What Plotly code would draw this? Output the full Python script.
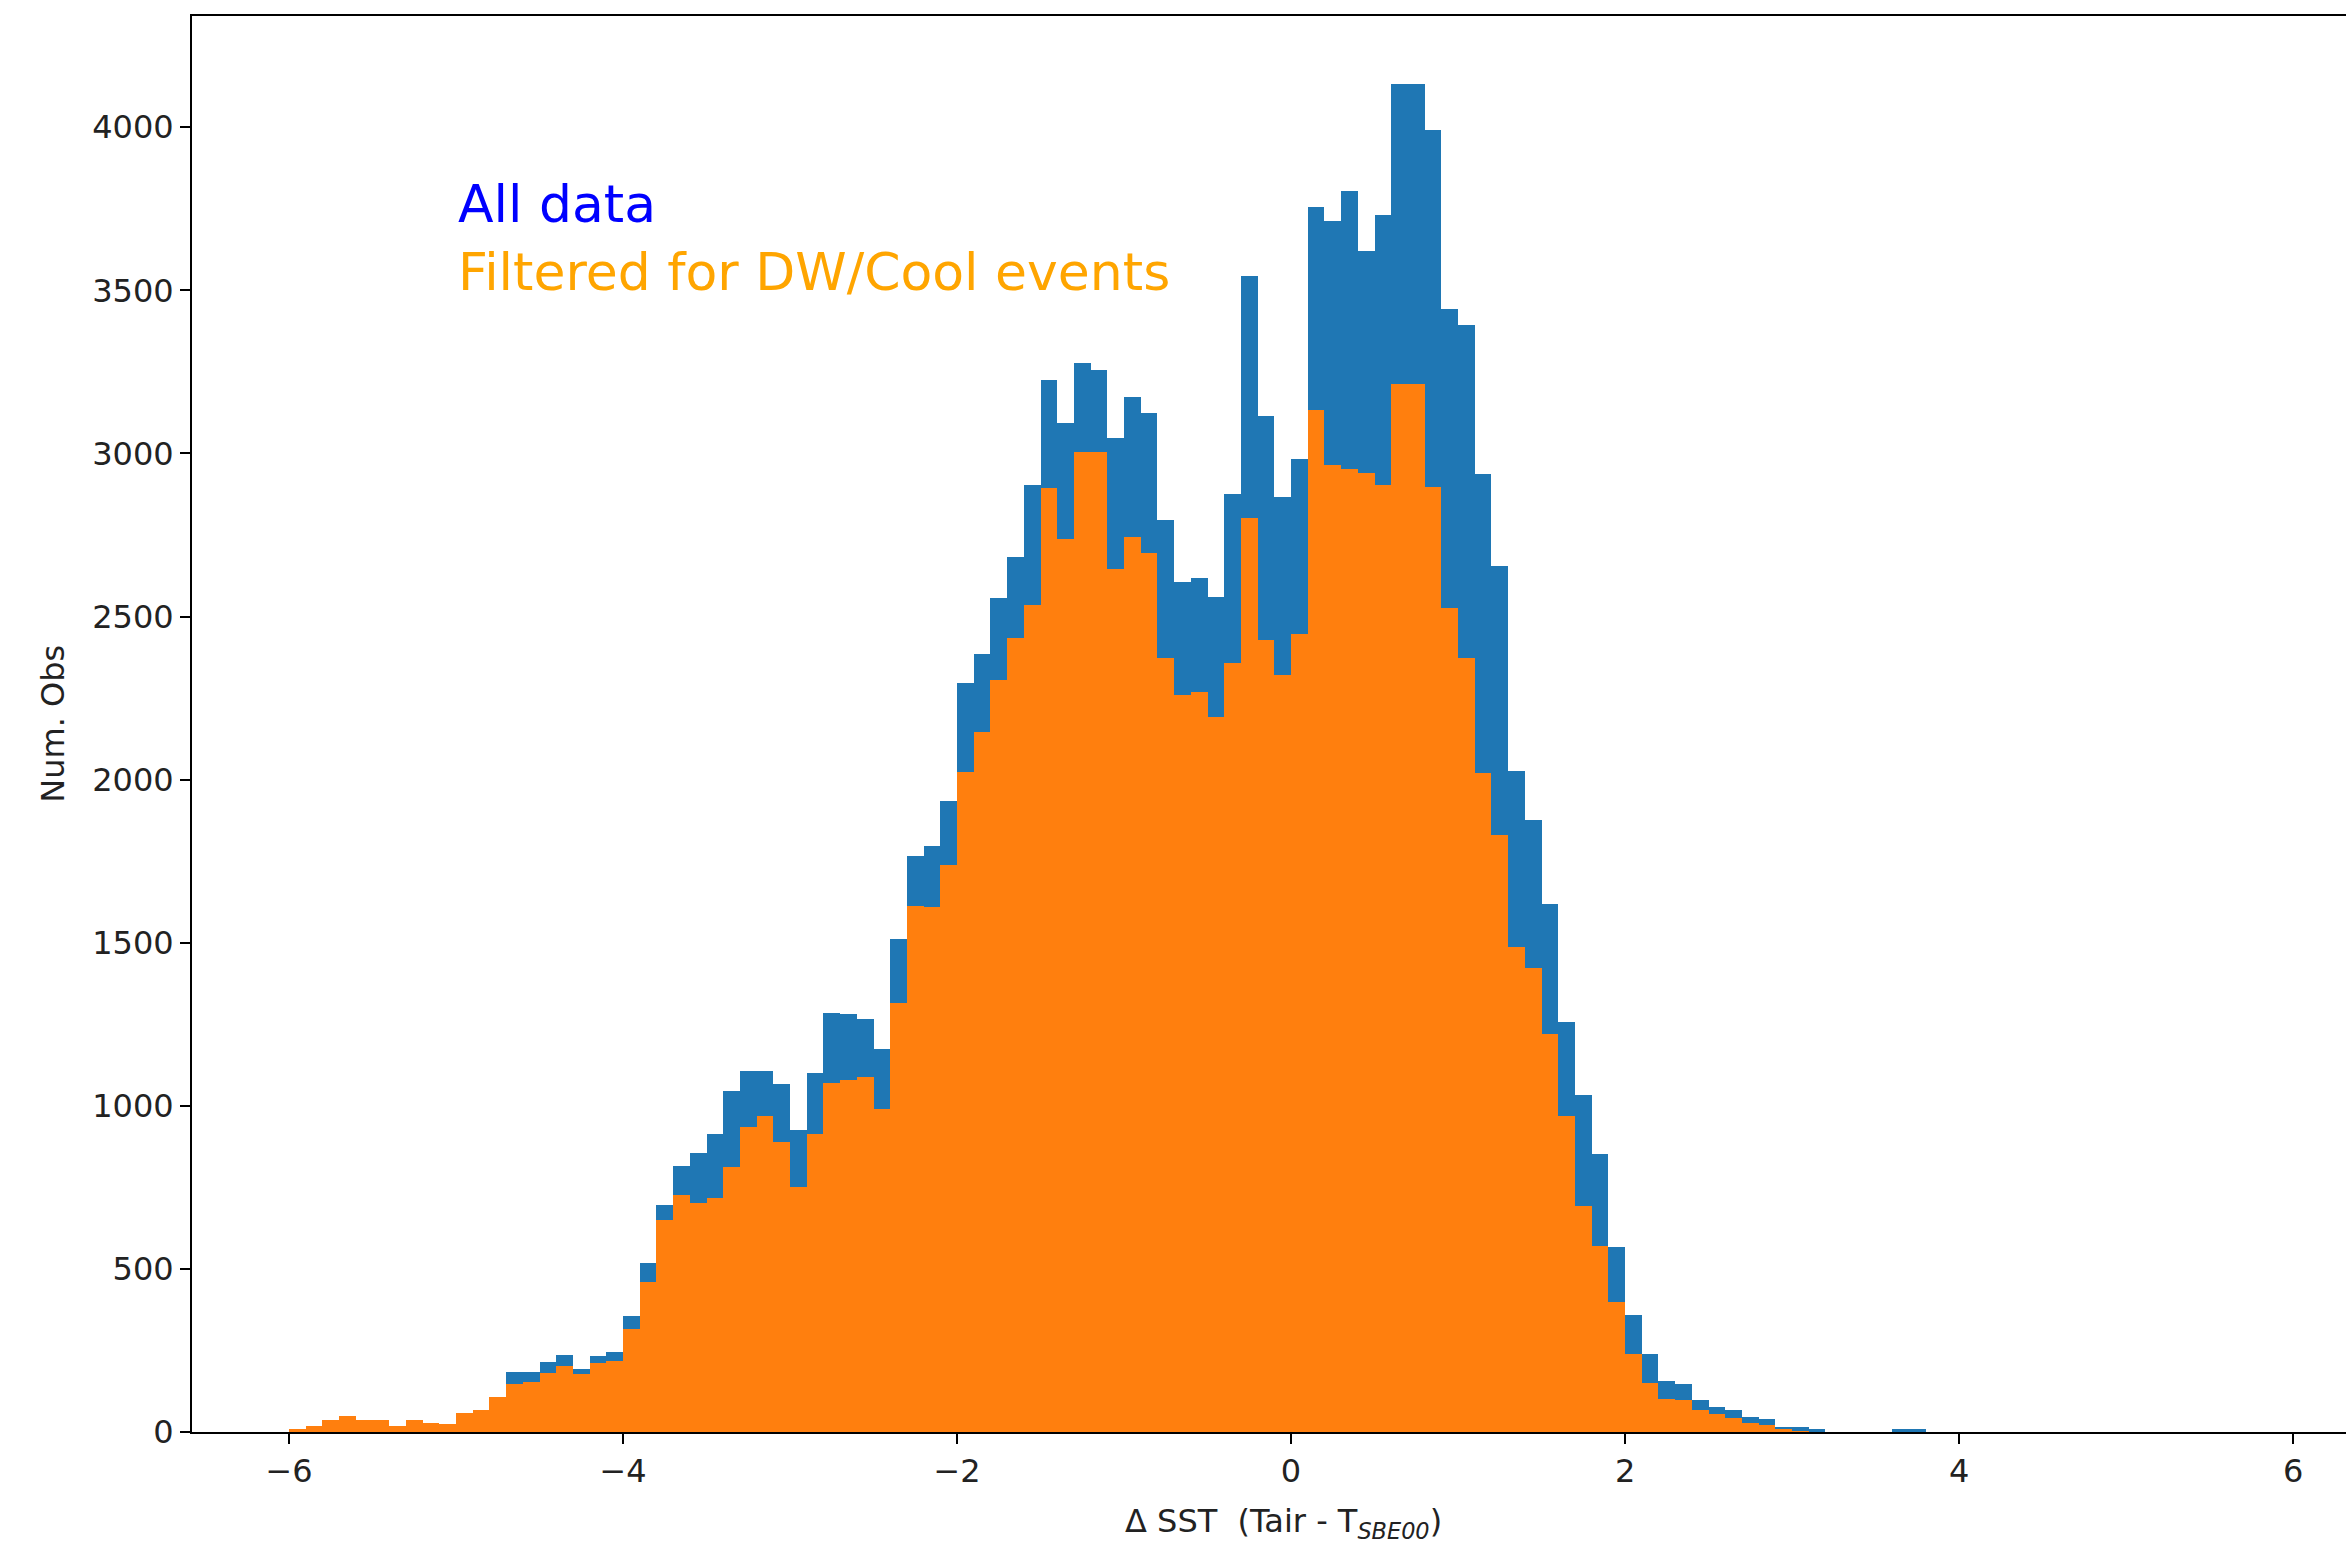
import plotly.graph_objects as go

# Histogram bins: left edges, width 0.1, from -6.0 to 5.9
bin_width = 0.1
bin_left = [round(-6.0 + bin_width * i, 1) for i in range(120)]

# "All data" counts per bin
all_counts = [
    9, 19, 38, 48, 38, 38, 19, 38, 28, 26,            # -6.0 .. -5.1
    58, 68, 107, 185, 185, 214, 235, 192, 232, 244,   # -5.0 .. -4.1
    355, 517, 696, 816, 856, 915, 1046, 1106, 1106, 1067,   # -4.0 .. -3.1
    926, 1100, 1286, 1283, 1265, 1174, 1512, 1767, 1798, 1933,  # -3.0 .. -2.1
    2295, 2385, 2556, 2683, 2903, 3225, 3094, 3276, 3255, 3046,  # -2.0 .. -1.1
    3174, 3125, 2796, 2607, 2617, 2561, 2877, 3543, 3114, 2867,  # -1.0 .. -0.1
    2983, 3754, 3714, 3803, 3621, 3732, 4132, 4132, 3993, 3444,  # 0.0 .. 0.9
    3395, 2937, 2655, 2025, 1876, 1618, 1256, 1034, 853, 567,    # 1.0 .. 1.9
    358, 239, 157, 147, 98, 77, 67, 47, 39, 16,                  # 2.0 .. 2.9
    16, 8, 0, 0, 0, 0, 8, 8, 0, 0,                               # 3.0 .. 3.9
    0, 0, 0, 0, 0, 0, 0, 0, 0, 0,                                # 4.0 .. 4.9
    0, 0, 0, 0, 0, 0, 0, 0, 0, 0,                                # 5.0 .. 5.9
]

# "Filtered for DW/Cool events" counts per bin
filtered_counts = [
    9, 19, 38, 48, 38, 38, 19, 38, 28, 26,
    58, 68, 107, 147, 154, 182, 202, 179, 212, 217,
    315, 461, 650, 726, 703, 716, 813, 936, 969, 890,
    752, 915, 1071, 1080, 1087, 990, 1316, 1613, 1609, 1737,
    2024, 2147, 2305, 2433, 2535, 2893, 2739, 3005, 3005, 2647,
    2745, 2696, 2372, 2259, 2269, 2193, 2356, 2801, 2428, 2320,
    2445, 3133, 2963, 2951, 2939, 2902, 3214, 3214, 2896, 2525,
    2374, 2021, 1830, 1487, 1421, 1220, 970, 692, 571, 400,
    239, 149, 100, 98, 67, 55, 42, 28, 21, 8,
    3, 0, 0, 0, 0, 0, 0, 0, 0, 0,
    0, 0, 0, 0, 0, 0, 0, 0, 0, 0,
    0, 0, 0, 0, 0, 0, 0, 0, 0, 0,
]

x_ticks = [-6, -4, -2, 0, 2, 4, 6]
x_tick_text = ["\u22126", "\u22124", "\u22122", "0", "2", "4", "6"]
y_ticks = [0, 500, 1000, 1500, 2000, 2500, 3000, 3500, 4000]

centers = [b + bin_width / 2 for b in bin_left]

fig = go.Figure()
fig.add_trace(go.Bar(x=centers, y=all_counts, width=bin_width,
                     marker=dict(color="#1f77b4", line=dict(width=0)),
                     name="All data"))
fig.add_trace(go.Bar(x=centers, y=filtered_counts, width=bin_width,
                     marker=dict(color="#ff7f0e", line=dict(width=0)),
                     name="Filtered for DW/Cool events"))

font_family = "DejaVu Sans"

fig.update_layout(
    width=2346, height=1544,
    margin=dict(l=192, r=0, t=16, b=112),
    paper_bgcolor="white", plot_bgcolor="white",
    barmode="overlay", bargap=0, showlegend=False,
    font=dict(family=font_family, size=32, color="#000000"),
    xaxis=dict(range=[-6.581, 6.317], tickmode="array", tickvals=x_ticks,
               ticktext=x_tick_text, showgrid=False, zeroline=False,
               showline=True, linecolor="#000000", linewidth=2, mirror=True,
               ticks="outside", ticklen=10, tickwidth=2, tickcolor="#000000",
               tickfont=dict(size=32, family=font_family, color="#222222")),
    yaxis=dict(range=[0, 4341], tickmode="array", tickvals=y_ticks,
               showgrid=False, zeroline=False,
               showline=True, linecolor="#000000", linewidth=2, mirror=False,
               ticks="outside", ticklen=10, tickwidth=2, tickcolor="#000000",
               tickfont=dict(size=32, family=font_family, color="#222222")),
)

fig.add_annotation(x=-5, y=3765, xref="x", yref="y", text="All data",
                   showarrow=False, xanchor="left", yanchor="middle",
                   font=dict(size=52, family=font_family, color="#0000ff"))
fig.add_annotation(x=-5, y=3556, xref="x", yref="y",
                   text="Filtered for DW/Cool events",
                   showarrow=False, xanchor="left", yanchor="middle",
                   font=dict(size=52, family=font_family, color="#ffa500"))

fig.add_annotation(x=0.5066, y=-0.0643, xref="paper", yref="paper",
                   text="\u0394 SST  (Tair - T<sub><i>SBE00</i></sub>)",
                   showarrow=False, xanchor="center", yanchor="middle",
                   font=dict(size=32, family=font_family, color="#222222"))
fig.add_annotation(x=-0.0647, y=0.5, xref="paper", yref="paper",
                   text="Num. Obs", textangle=-90,
                   showarrow=False, xanchor="center", yanchor="middle",
                   font=dict(size=32, family=font_family, color="#222222"))

fig.write_html("out.html")
